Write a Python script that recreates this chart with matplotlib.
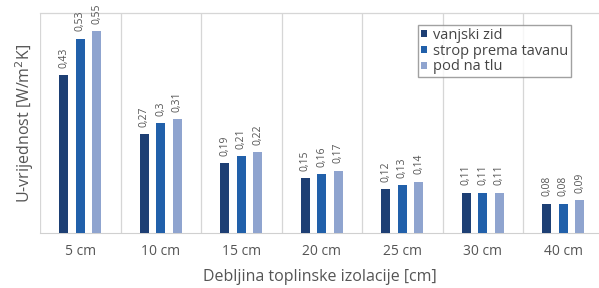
import matplotlib.pyplot as plt
import numpy as np

categories = ["5 cm", "10 cm", "15 cm", "20 cm", "25 cm", "30 cm", "40 cm"]
vanjski_zid = [0.43, 0.27, 0.19, 0.15, 0.12, 0.11, 0.08]
strop = [0.53, 0.30, 0.21, 0.16, 0.13, 0.11, 0.08]
pod = [0.55, 0.31, 0.22, 0.17, 0.14, 0.11, 0.09]
series_names = ["vanjski zid", "strop prema tavanu", "pod na tlu"]
colors = ["#1d3f74", "#2160aa", "#8fa4cf"]

plt.rcParams['font.family'] = ['Open Sans', 'DejaVu Sans']
txt = "#555555"

fig = plt.figure(figsize=(5.99, 2.88), dpi=100)
ax = fig.add_axes([40/599, (288-233)/288, 559/599, 220/288])

x = np.arange(len(categories))
w = 0.115
step = 0.205
for k, (vals, name, c) in enumerate(zip([vanjski_zid, strop, pod], series_names, colors)):
    xs = x + (k - 1) * step
    ax.bar(xs, vals, width=w, color=c, label=name, zorder=3)
    for xi, v in zip(xs, vals):
        lab = ("%.2f" % v).rstrip("0") if v == 0.3 else "%.2f" % v
        lab = lab.replace(".", ",")
        ax.text(xi, v + 0.02, lab, rotation=90, ha="center", va="bottom",
                fontsize=7.5, color=txt)

ax.set_xlim(-0.5, -0.5 + 559/80.5)
ax.set_ylim(0, 0.6)
for s in ["left", "right", "top"]:
    ax.spines[s].set_visible(False)
ax.spines["bottom"].set_color("#d0d0d0")
for i in range(len(categories) + 1):
    ax.axvline(i - 0.5, color="#d6d6d6", lw=0.9, zorder=1)
ax.axhline(0.6, color="#d6d6d6", lw=0.9, zorder=1, clip_on=False)

ax.set_yticks([])
ax.set_xticks(x)
ax.set_xticklabels(categories, fontsize=10, color=txt)
ax.tick_params(axis="x", length=0, pad=8)
ax.set_ylabel("U-vrijednost [W/m$^2$K]", fontsize=11.5, color=txt, labelpad=3)
ax.set_xlabel("Debljina toplinske izolacije [cm]", fontsize=11.5, color=txt, labelpad=7)

leg = ax.legend(loc="upper left", bbox_to_anchor=(378/559, 0.945), fontsize=10.5,
                frameon=True, fancybox=False, handlelength=0.4, handleheight=0.4,
                handletextpad=0.4, borderpad=0.2, labelspacing=0.05,
                borderaxespad=0)
leg.get_frame().set_edgecolor("#8a8a8a")
leg.get_frame().set_linewidth(1.0)
for t in leg.get_texts():
    t.set_color("#444444")

fig.savefig("out.png", dpi=100)
